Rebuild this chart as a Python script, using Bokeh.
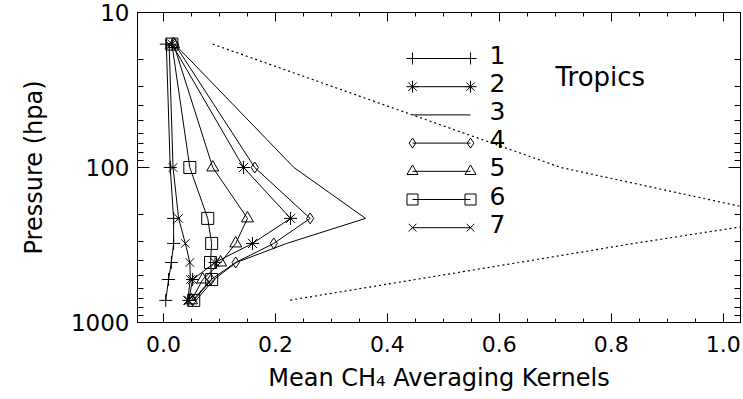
from bokeh.plotting import figure
from bokeh.models import Range1d, LinearAxis, LogAxis, FixedTicker, PrintfTickFormatter, Label
from bokeh.embed import file_html
from bokeh.resources import INLINE

# ---- data ----
pressure = [16, 100, 213, 309, 410, 528, 720]
ak1 = [0.005, 0.012, 0.018, 0.018, 0.014, 0.009, 0.004]
ak2 = [0.015, 0.143, 0.227, 0.159, 0.092, 0.052, 0.045]
ak3 = [0.020, 0.233, 0.361, 0.220, 0.130, 0.090, 0.058]
ak4 = [0.020, 0.163, 0.262, 0.197, 0.129, 0.085, 0.052]
ak5 = [0.018, 0.088, 0.150, 0.129, 0.102, 0.070, 0.050]
ak6 = [0.015, 0.047, 0.079, 0.086, 0.084, 0.086, 0.054]
ak7 = [0.010, 0.017, 0.027, 0.039, 0.047, 0.048, 0.043]
ak_sum = [0.088, 0.710, 1.130, 0.840, 0.635, 0.450, 0.224]
series_names = ["1", "2", "3", "4", "5", "6", "7"]
x_ticks = [0.0, 0.2, 0.4, 0.6, 0.8, 1.0]
y_ticks = [10, 100, 1000]

series = [ak1, ak2, ak3, ak4, ak5, ak6, ak7]
markers = ["cross", "asterisk", None, "diamond", "triangle", "square", "x"]
msizes = [13, 13, 0, 11, 12, 12, 12]

XMIN, XMAX = -0.0465, 1.031
FL, FR, FT, FB = 137, 740, 12, 322  # frame edges in px

def px2x(px):
    return XMIN + (px - FL) / (FR - FL) * (XMAX - XMIN)

def py2p(py):
    return 10 ** (1 + 2 * (py - FT) / (FB - FT))

FONT = "DejaVu Sans"

p = figure(width=743, height=399, y_axis_type="log",
           x_range=Range1d(XMIN, XMAX), y_range=Range1d(1000, 10),
           output_backend="svg", toolbar_location=None,
           min_border_left=FL, min_border_right=743 - FR,
           min_border_top=FT, min_border_bottom=399 - FB)
p.xgrid.visible = False
p.ygrid.visible = False
p.outline_line_color = "black"
p.outline_line_width = 1
p.background_fill_color = "white"
p.border_fill_color = "white"

minor_x = [round(i * 0.05, 2) for i in range(-1, 22)]
minor_y = [m * d for d in (10, 100) for m in range(2, 10)]

def style_x(ax, labels=True):
    ax.ticker = FixedTicker(ticks=x_ticks, minor_ticks=minor_x)
    ax.formatter = PrintfTickFormatter(format="%.1f")
    ax.major_tick_in = 9
    ax.major_tick_out = 0
    ax.minor_tick_in = 4
    ax.minor_tick_out = 0
    ax.axis_line_color = "black"
    ax.major_tick_line_color = "black"
    ax.minor_tick_line_color = "black"
    ax.major_label_text_font = FONT
    ax.major_label_text_color = "black"
    ax.major_label_text_font_size = "22px"
    ax.major_label_standoff = 13
    if not labels:
        ax.major_label_overrides = {t: "" for t in x_ticks}
        ax.major_label_standoff = 0

def style_y(ax, labels=True):
    ax.ticker = FixedTicker(ticks=y_ticks, minor_ticks=minor_y)
    ax.formatter = PrintfTickFormatter(format="%d")
    ax.major_tick_in = 12
    ax.major_tick_out = 0
    ax.minor_tick_in = 6
    ax.minor_tick_out = 0
    ax.axis_line_color = "black"
    ax.major_tick_line_color = "black"
    ax.minor_tick_line_color = "black"
    ax.major_label_text_font = FONT
    ax.major_label_text_color = "black"
    ax.major_label_text_font_size = "23px"
    ax.major_label_standoff = 8
    if not labels:
        ax.major_label_overrides = {t: "" for t in y_ticks}
        ax.major_label_standoff = 0

style_x(p.xaxis[0])
style_y(p.yaxis[0])
p.xaxis[0].axis_label = "Mean CH\u2084 Averaging Kernels"
p.yaxis[0].axis_label = "Pressure (hpa)"
for ax in (p.xaxis[0], p.yaxis[0]):
    ax.axis_label_text_font = FONT
    ax.axis_label_text_font_style = "normal"
    ax.axis_label_text_font_size = "24px"
    ax.axis_label_text_color = "black"
p.xaxis[0].axis_label_standoff = 9
p.yaxis[0].axis_label_standoff = 20

top = LinearAxis(); style_x(top, labels=False)
right = LogAxis(); style_y(right, labels=False)
p.add_layout(top, "above")
p.add_layout(right, "right")

# dotted curve
p.line(ak_sum, pressure, line_color="black", line_width=1.2, line_dash="2 3")

# kernel profiles
for vals, mk, ms in zip(series, markers, msizes):
    p.line(vals, pressure, line_color="black", line_width=1)
    if mk:
        p.scatter(vals, pressure, marker=mk, size=ms, line_color="black",
                  fill_color=None, line_width=1)

# legend (drawn by hand: markers at both ends of each sample line)
lx0, lx1 = px2x(412), px2x(470)
for i, (name, mk, ms) in enumerate(zip(series_names, markers, msizes)):
    ly = 58 + i * 28.2
    yp = py2p(ly)
    p.segment(x0=[lx0], y0=[yp], x1=[lx1], y1=[yp], line_color="black", line_width=1)
    if mk:
        p.scatter([lx0, lx1], [yp, yp], marker=mk, size=ms - 1, line_color="black",
                  fill_color=None, line_width=1)
    p.add_layout(Label(x=px2x(489), y=py2p(ly - 4), text=name, text_font=FONT,
                       text_font_size="25px", text_baseline="middle", text_color="black"))

p.add_layout(Label(x=px2x(555), y=py2p(76), text="Tropics", text_font=FONT,
                   text_font_size="26px", text_baseline="middle", text_color="black"))

open("out.html", "w").write(file_html(p, INLINE))
